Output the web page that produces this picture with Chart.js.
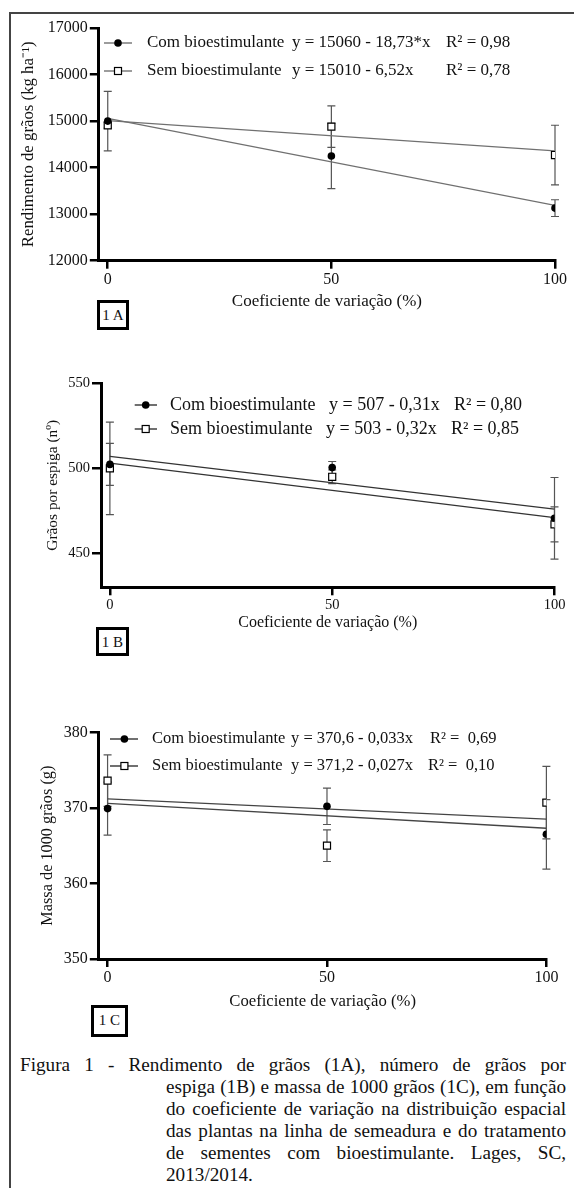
<!DOCTYPE html>
<html>
<head>
<meta charset="utf-8">
<script src="https://cdn.jsdelivr.net/npm/chart.js@4.4.1/dist/chart.umd.min.js"></script>
<style>
body{margin:0;background:#fff;}
#page{position:relative;width:574px;height:1188px;overflow:hidden;font-family:"Liberation Serif","Times New Roman",serif;color:#111;}
.frameL{position:absolute;left:9px;top:12px;width:2px;height:1176px;background:#444;}
.frameT{position:absolute;left:9px;top:12px;width:565px;height:2px;background:#444;}
canvas{position:absolute;left:0;}
.tag{position:absolute;border:3px solid #000;box-sizing:border-box;font-size:15px;line-height:24px;text-align:center;background:#fff;z-index:2;}
.cap{position:absolute;font-size:19.2px;line-height:22px;text-align:justify;text-align-last:justify;color:#111;z-index:2;}
.cap.last{text-align-last:left;}
</style>
</head>
<body>
<div id="page">
  <div class="frameL"></div>
  <div class="frameT"></div>
  <canvas id="chartA" width="574" height="320" style="top:0px"></canvas>
  <canvas id="chartB" width="574" height="300" style="top:340px"></canvas>
  <canvas id="chartC" width="574" height="340" style="top:680px"></canvas>
  <div class="tag" style="left:97px;top:300px;width:32px;height:30px;">1 A</div>
  <div class="tag" style="left:96px;top:627px;width:33px;height:29px;">1 B</div>
  <div class="tag" style="left:91px;top:1005px;width:37px;height:32px;">1 C</div>
  <div class="cap" style="left:20px;top:1054px;width:546px;">Figura 1 - Rendimento de grãos (1A), número de grãos por</div>
  <div class="cap" style="left:166px;top:1076px;width:400px;">espiga (1B) e massa de 1000 grãos (1C), em função</div>
  <div class="cap" style="left:166px;top:1098px;width:400px;">do coeficiente de variação na distribuição espacial</div>
  <div class="cap" style="left:166px;top:1120px;width:400px;">das plantas na linha de semeadura e do tratamento</div>
  <div class="cap" style="left:166px;top:1142px;width:400px;">de sementes com bioestimulante. Lages, SC,</div>
  <div class="cap last" style="left:166px;top:1164px;width:400px;">2013/2014.</div>
</div>
<script>
'use strict';
// shared x categories (coeficiente de variação, %)
let xValues=[0,50,100];
let xTicks=[0,50,100];
let xTitle='Coeficiente de variação (%)';
let seriesNames=['Com bioestimulante','Sem bioestimulante'];

// 1A - rendimento de grãos
let aComMean=[15000,14250,13130];
let aComErr=[640,700,180];
let aSemMean=[14910,14880,14270];
let aSemErr=[60,445,640];
let aComFit=[15060,13187];
let aSemFit=[15010,14358];
let aTicks=[12000,13000,14000,15000,16000,17000];
let aEq=[['y = 15060 - 18,73*x','R² = 0,98'],['y = 15010 - 6,52x','R² = 0,78']];

// 1B - grãos por espiga
let bComMean=[502.3,500.4,470.6];
let bComErr=[12.4,3.6,24];
let bSemMean=[500,495,467];
let bSemErr=[27.2,4,10.3];
let bComFit=[507,476];
let bSemFit=[503,471];
let bTicks=[450,500,550];
let bEq=[['y = 507 - 0,31x','R² = 0,80'],['y = 503 - 0,32x','R² = 0,85']];

// 1C - massa de 1000 grãos
let cComMean=[369.9,370.2,366.5];
let cComErr=[3.5,2.4,4.6];
let cSemMean=[373.6,365.0,370.7];
let cSemErr=[3.4,2.1,4.8];
let cComFit=[370.6,367.3];
let cSemFit=[371.2,368.5];
let cTicks=[350,360,370,380];
let cEq=[['y = 370,6 - 0,033x','R² =  0,69'],['y = 371,2 - 0,027x','R² =  0,10']];

const FONT="'Liberation Serif', serif";
Chart.defaults.font.family=FONT;
Chart.defaults.color='#111';

function toPoints(vals){
  return xValues.map((x,i)=>({x:x,y:vals[i]}));
}

//error bars, drawn under the markers
const errorBars={
  id:'errorBars',
  beforeDatasetsDraw(chart){
    const ctx=chart.ctx;
    const xs=chart.scales.x, ys=chart.scales.y;
    ctx.save();
    ctx.strokeStyle='#555';
    ctx.lineWidth=1.2;
    chart.data.datasets.forEach(ds=>{
      if(!ds.errors) return;
      ds.data.forEach((p,i)=>{
        let px=xs.getPixelForValue(p.x);
        let top=ys.getPixelForValue(p.y+ds.errors[i]);
        let bot=ys.getPixelForValue(p.y-ds.errors[i]);
        ctx.beginPath();
        ctx.moveTo(px,top);ctx.lineTo(px,bot);
        ctx.moveTo(px-4,top);ctx.lineTo(px+4,top);
        ctx.moveTo(px-4,bot);ctx.lineTo(px+4,bot);
        ctx.stroke();
      });
    });
    ctx.restore();
  }
};

//legend with equations
const eqLegend={
  id:'eqLegend',
  afterDraw(chart){
    const L=chart.options.plugins.eqLegend;
    const ctx=chart.ctx;
    ctx.save();
    for(let r=0;r<2;r++){
      let y=L.rows[r];
      ctx.strokeStyle=L.lineColor;
      ctx.lineWidth=1.3;
      ctx.beginPath();
      ctx.moveTo(L.line[0],y);ctx.lineTo(L.line[1],y);
      ctx.stroke();
      ctx.lineWidth=1.2;
      ctx.strokeStyle='#000';
      if(r===0){
        ctx.fillStyle='#000';
        ctx.beginPath();
        ctx.arc(L.marker,y,3.8,0,Math.PI*2);
        ctx.fill();
      }else{
        ctx.fillStyle='#fff';
        ctx.fillRect(L.marker-3.5,y-3.5,7,7);
        ctx.strokeRect(L.marker-3.5,y-3.5,7,7);
      }
      ctx.fillStyle='#111';
      ctx.font=L.size+'px '+FONT;
      ctx.textBaseline='middle';
      ctx.textAlign='left';
      ctx.fillText(seriesNames[r],L.cols[r][0],y);
      ctx.fillText(L.eq[r][0],L.cols[r][1],y);
      ctx.fillText(L.eq[r][1],L.cols[r][2],y);
    }
    ctx.restore();
  }
};

function makePanel(id,p){
  const fixed=(v)=>({value:v});
  return new Chart(document.getElementById(id),{
    data:{
      datasets:[
        {type:'scatter',label:seriesNames[0],data:toPoints(p.comMean),errors:p.comErr,pointStyle:'circle',pointRadius:3.8,backgroundColor:'#000',borderColor:'#000',borderWidth:0,order:0},
        {type:'scatter',label:seriesNames[1],data:toPoints(p.semMean),errors:p.semErr,pointStyle:'rect',pointRadius:5,backgroundColor:'#fff',borderColor:'#000',borderWidth:1.2,order:1},
        {type:'line',data:[{x:xValues[0],y:p.comFit[0]},{x:xValues[2],y:p.comFit[1]}],borderColor:p.fitColor,borderWidth:1.3,pointRadius:0,order:2},
        {type:'line',data:[{x:xValues[0],y:p.semFit[0]},{x:xValues[2],y:p.semFit[1]}],borderColor:p.fitColor,borderWidth:1.3,pointRadius:0,order:2}
      ]
    },
    options:{
      responsive:false,
      devicePixelRatio:1,
      animation:false,
      events:[],
      layout:{padding:{left:0,top:p.top,right:574-p.right,bottom:0}},
      plugins:{
        legend:{display:false},
        tooltip:{enabled:false},
        eqLegend:p.legend
      },
      scales:{
        x:{
          type:'linear',min:-2,max:100,
          afterBuildTicks:s=>{s.ticks=xTicks.map(fixed);},
          afterFit:s=>{s.height=p.xH;},
          grid:{drawOnChartArea:false,drawTicks:true,tickLength:8,color:'#000',lineWidth:2.5},
          border:{display:true,color:'#000',width:3},
          ticks:{color:'#111',font:{family:FONT,size:p.tickSize},padding:1,maxRotation:0,callback:v=>String(v)},
          title:{display:true,text:xTitle,color:'#111',font:{family:FONT,size:p.xTitleSize},padding:{top:0,bottom:p.xTitlePad}}
        },
        y:{
          type:'linear',min:p.yMin,max:p.yMax,
          afterBuildTicks:s=>{s.ticks=p.ticks.map(fixed);},
          afterFit:s=>{s.width=p.left;},
          grid:{drawOnChartArea:false,drawTicks:true,tickLength:9,color:'#000',lineWidth:2.5},
          border:{display:true,color:'#000',width:3},
          ticks:{color:'#111',font:{family:FONT,size:p.tickSize},padding:2,callback:v=>String(v)},
          title:{display:true,text:p.yTitle,color:'#111',font:{family:FONT,size:p.yTitleSize},padding:{top:p.yTitlePad,bottom:0}}
        }
      }
    },
    plugins:[errorBars,eqLegend]
  });
}

makePanel('chartA',{
  comMean:aComMean,comErr:aComErr,semMean:aSemMean,semErr:aSemErr,comFit:aComFit,semFit:aSemFit,
  ticks:aTicks,yMin:12000,yMax:17000,fitColor:'#707070',
  top:28,right:555,left:98.8,xH:59.3,tickSize:16,xTitleSize:17,xTitlePad:7.8,
  yTitle:'Rendimento de grãos (kg ha⁻¹)',yTitleSize:16.8,yTitlePad:19,
  legend:{rows:[43,71],line:[104,132],marker:118,size:17,lineColor:'#666',eq:aEq,cols:[[147,292,446],[147,292,446]]}
});

makePanel('chartB',{
  comMean:bComMean,comErr:bComErr,semMean:bSemMean,semErr:bSemErr,comFit:bComFit,semFit:bSemFit,
  ticks:bTicks,yMin:430,yMax:550,fitColor:'#333',
  top:43.3,right:554.5,left:101,xH:52.7,tickSize:14.5,xTitleSize:16,xTitlePad:7.4,
  yTitle:'Grãos por espiga (nº)',yTitleSize:15.4,yTitlePad:43.8,
  legend:{rows:[65,89],line:[134.7,157],marker:145.7,size:18,lineColor:'#222',eq:bEq,cols:[[170,329,454],[170,326,451]]}
});

makePanel('chartC',{
  comMean:cComMean,comErr:cComErr,semMean:cSemMean,semErr:cSemErr,comFit:cComFit,semFit:cSemFit,
  ticks:cTicks,yMin:350,yMax:380,fitColor:'#444',
  top:52.3,right:546.4,left:98.8,xH:61,tickSize:16,xTitleSize:16.7,xTitlePad:8.3,
  yTitle:'Massa de 1000 grãos (g)',yTitleSize:16.3,yTitlePad:37.8,
  legend:{rows:[59,86],line:[110,138],marker:124.4,size:16.5,lineColor:'#222',eq:cEq,cols:[[152,291,430],[152,291,428]]}
});
</script>
</body>
</html>
